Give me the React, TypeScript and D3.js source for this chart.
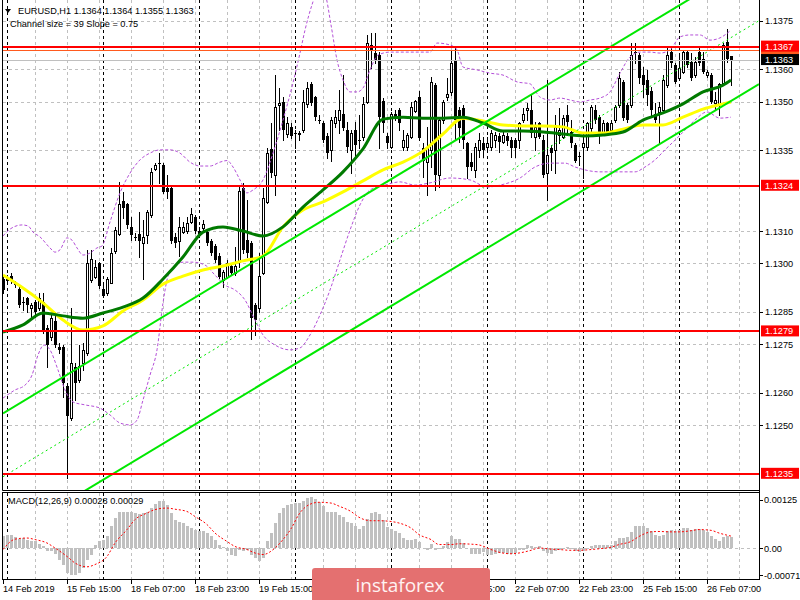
import React from "react";
import * as d3 from "d3";

// ---------------- data ----------------
const opens = [
  1.12952,1.12949,1.12961,1.12943,1.12921,1.12881,1.12893,1.12862,1.12881,1.12862,
  1.12881,1.12800,1.12773,1.12822,1.12742,1.12742,1.12621,1.12522,1.12680,1.12640,
  1.12692,1.12723,1.12949,1.12958,1.13001,1.12921,1.12909,1.12939,1.13038,1.13091,
  1.13193,1.13184,1.13113,1.13082,1.13091,1.13063,1.13088,1.13150,1.13292,1.13310,
  1.13304,1.13233,1.13233,1.13082,1.13069,1.13097,1.13100,1.13128,1.13143,1.13100,
  1.13110,1.13097,1.13069,1.13054,1.13023,1.12949,1.12958,1.12992,1.12970,1.13004,
  1.13233,1.13072,1.13063,1.12872,1.12862,1.12970,1.13190,1.13354,1.13273,1.13490,
  1.13499,1.13400,1.13422,1.13403,1.13403,1.13412,1.13493,1.13554,1.13514,1.13443,
  1.13434,1.13394,1.13351,1.13434,1.13443,1.13462,1.13412,1.13351,1.13412,1.13381,
  1.13391,1.13499,1.13675,1.13650,1.13644,1.13502,1.13394,1.13360,1.13462,1.13474,
  1.13360,1.13360,1.13391,1.13471,1.13514,1.13357,1.13313,1.13351,1.13551,1.13273,
  1.13443,1.13514,1.13530,1.13629,1.13474,1.13480,1.13372,1.13313,1.13289,1.13351,
  1.13372,1.13360,1.13360,1.13381,1.13394,1.13375,1.13394,1.13381,1.13381,1.13381,
  1.13443,1.13474,1.13474,1.13391,1.13434,1.13381,1.13279,1.13357,1.13351,1.13397,
  1.13391,1.13459,1.13406,1.13366,1.13332,1.13360,1.13360,1.13418,1.13474,1.13452,
  1.13406,1.13434,1.13412,1.13443,1.13490,1.13561,1.13490,1.13490,1.13653,1.13644,
  1.13582,1.13567,1.13533,1.13462,1.13468,1.13474,1.13551,1.13653,1.13613,1.13573,
  1.13592,1.13653,1.13622,1.13582,1.13653,1.13632,1.13582,1.13582,1.13496,1.13490,
  1.13558,1.13684,1.13640,
];
const highs = [
  1.12964,1.12964,1.12970,1.12946,1.12927,1.12896,1.12896,1.12878,1.12887,1.12909,
  1.12909,1.12810,1.12841,1.12850,1.12754,1.12748,1.12631,1.12862,1.12692,1.12748,
  1.12754,1.13042,1.13042,1.13011,1.13004,1.12939,1.12958,1.13048,1.13113,1.13252,
  1.13221,1.13187,1.13143,1.13094,1.13159,1.13134,1.13165,1.13295,1.13310,1.13341,
  1.13310,1.13273,1.13236,1.13094,1.13143,1.13128,1.13143,1.13171,1.13150,1.13113,
  1.13134,1.13103,1.13075,1.13060,1.13032,1.12980,1.13011,1.12998,1.13051,1.13242,
  1.13249,1.13196,1.13069,1.12878,1.13032,1.13233,1.13357,1.13434,1.13582,1.13542,
  1.13514,1.13452,1.13434,1.13412,1.13409,1.13536,1.13561,1.13561,1.13517,1.13459,
  1.13440,1.13403,1.13452,1.13474,1.13536,1.13582,1.13437,1.13412,1.13437,1.13459,
  1.13514,1.13706,1.13712,1.13712,1.13653,1.13511,1.13403,1.13468,1.13474,1.13480,
  1.13412,1.13403,1.13499,1.13505,1.13533,1.13372,1.13422,1.13576,1.13558,1.13452,
  1.13505,1.13573,1.13660,1.13666,1.13483,1.13490,1.13375,1.13341,1.13372,1.13403,
  1.13391,1.13391,1.13412,1.13406,1.13403,1.13412,1.13403,1.13391,1.13388,1.13437,
  1.13480,1.13496,1.13524,1.13437,1.13437,1.13397,1.13567,1.13366,1.13459,1.13480,
  1.13459,1.13490,1.13443,1.13372,1.13344,1.13403,1.13437,1.13490,1.13490,1.13459,
  1.13443,1.13437,1.13443,1.13490,1.13592,1.13567,1.13496,1.13681,1.13681,1.13650,
  1.13607,1.13598,1.13545,1.13496,1.13499,1.13582,1.13666,1.13669,1.13619,1.13650,
  1.13660,1.13660,1.13650,1.13638,1.13669,1.13653,1.13598,1.13588,1.13530,1.13558,
  1.13681,1.13724,1.13640,
];
const lows = [
  1.12909,1.12939,1.12939,1.12927,1.12865,1.12856,1.12850,1.12834,1.12834,1.12856,
  1.12785,1.12680,1.12763,1.12742,1.12723,1.12587,1.12337,1.12516,1.12578,1.12634,
  1.12671,1.12717,1.12943,1.12955,1.12924,1.12896,1.12902,1.12939,1.13032,1.13088,
  1.13140,1.13110,1.13072,1.13072,1.13020,1.12952,1.13063,1.13143,1.13289,1.13249,
  1.13218,1.13202,1.13063,1.13051,1.13023,1.13094,1.13094,1.13125,1.13094,1.13082,
  1.13103,1.13057,1.13026,1.13004,1.12955,1.12927,1.12955,1.12964,1.12964,1.12989,
  1.13032,1.13020,1.12766,1.12779,1.12850,1.12967,1.13187,1.13267,1.13212,1.13412,
  1.13381,1.13391,1.13388,1.13357,1.13381,1.13406,1.13483,1.13490,1.13443,1.13434,
  1.13375,1.13326,1.13318,1.13422,1.13403,1.13412,1.13344,1.13279,1.13329,1.13357,
  1.13381,1.13496,1.13604,1.13619,1.13357,1.13406,1.13357,1.13357,1.13443,1.13412,
  1.13351,1.13351,1.13388,1.13468,1.13381,1.13267,1.13212,1.13298,1.13227,1.13236,
  1.13434,1.13505,1.13521,1.13381,1.13375,1.13357,1.13264,1.13289,1.13267,1.13329,
  1.13329,1.13344,1.13351,1.13360,1.13344,1.13372,1.13366,1.13329,1.13329,1.13357,
  1.13437,1.13443,1.13391,1.13351,1.13388,1.13267,1.13196,1.13289,1.13279,1.13372,
  1.13388,1.13403,1.13360,1.13313,1.13304,1.13264,1.13351,1.13403,1.13434,1.13372,
  1.13403,1.13397,1.13403,1.13437,1.13483,1.13443,1.13437,1.13483,1.13619,1.13558,
  1.13514,1.13490,1.13459,1.13437,1.13372,1.13468,1.13545,1.13607,1.13558,1.13567,
  1.13588,1.13607,1.13567,1.13576,1.13613,1.13588,1.13576,1.13496,1.13474,1.13459,
  1.13551,1.13622,1.13550,
];
const closes = [
  1.12918,1.12952,1.12946,1.12933,1.12872,1.12880,1.12872,1.12872,1.12850,1.12893,
  1.12788,1.12748,1.12831,1.12748,1.12733,1.12631,1.12529,1.12692,1.12631,1.12683,
  1.12733,1.13001,1.13014,1.12989,1.12930,1.12899,1.12952,1.13032,1.13103,1.13184,
  1.13171,1.13119,1.13088,1.13081,1.13069,1.13082,1.13159,1.13283,1.13304,1.13309,
  1.13221,1.13221,1.13069,1.13063,1.13113,1.13113,1.13125,1.13153,1.13100,1.13091,
  1.13122,1.13063,1.13032,1.13011,1.12958,1.12974,1.13001,1.12970,1.12992,1.13224,
  1.13042,1.13032,1.12831,1.12825,1.12961,1.13202,1.13341,1.13279,1.13483,1.13496,
  1.13412,1.13434,1.13394,1.13402,1.13404,1.13499,1.13542,1.13496,1.13452,1.13442,
  1.13381,1.13341,1.13443,1.13452,1.13474,1.13418,1.13360,1.13403,1.13366,1.13380,
  1.13493,1.13681,1.13660,1.13629,1.13452,1.13434,1.13372,1.13462,1.13449,1.13434,
  1.13381,1.13397,1.13483,1.13502,1.13388,1.13318,1.13357,1.13561,1.13273,1.13443,
  1.13499,1.13524,1.13619,1.13443,1.13418,1.13381,1.13298,1.13298,1.13360,1.13381,
  1.13351,1.13372,1.13403,1.13397,1.13375,1.13397,1.13378,1.13357,1.13357,1.13434,
  1.13462,1.13480,1.13403,1.13422,1.13391,1.13273,1.13335,1.13341,1.13422,1.13412,
  1.13449,1.13437,1.13372,1.13318,1.13331,1.13372,1.13434,1.13483,1.13443,1.13403,
  1.13434,1.13403,1.13434,1.13483,1.13573,1.13449,1.13443,1.13644,1.13652,1.13573,
  1.13551,1.13521,1.13474,1.13443,1.13483,1.13567,1.13644,1.13619,1.13561,1.13604,
  1.13653,1.13613,1.13573,1.13622,1.13619,1.13592,1.13592,1.13499,1.13505,1.13554,
  1.13675,1.13632,1.13630,
];

const macdHist = [
  0.00030,0.00035,0.00035,0.00029,0.00023,0.00026,0.00020,0.00017,0.00017,0.00011,
  0.00004,-0.00009,-0.00009,-0.00015,-0.00030,-0.00043,-0.00065,-0.00069,-0.00069,-0.00065,
  -0.00052,-0.00030,-0.00017,0.00009,0.00017,0.00022,0.00030,0.00056,0.00078,0.00095,
  0.00095,0.00095,0.00095,0.00091,0.00089,0.00091,0.00095,0.00104,0.00115,0.00122,
  0.00122,0.00113,0.00091,0.00074,0.00069,0.00065,0.00056,0.00052,0.00048,0.00043,
  0.00043,0.00039,0.00030,0.00022,0.00009,0.00002,-0.00009,-0.00017,-0.00022,-0.00004,
  -0.00009,-0.00004,-0.00017,-0.00026,-0.00035,-0.00026,0.00017,0.00039,0.00065,0.00091,
  0.00104,0.00113,0.00114,0.00116,0.00116,0.00122,0.00130,0.00133,0.00128,0.00119,
  0.00109,0.00095,0.00094,0.00094,0.00087,0.00082,0.00069,0.00065,0.00058,0.00049,
  0.00056,0.00076,0.00091,0.00094,0.00089,0.00074,0.00055,0.00049,0.00045,0.00039,
  0.00026,0.00020,0.00022,0.00023,0.00015,0.00001,-0.00006,0.00011,-0.00006,-0.00003,
  0.00006,0.00015,0.00030,0.00023,0.00023,0.00013,0.00000,-0.00015,-0.00015,-0.00015,
  -0.00011,-0.00017,-0.00017,-0.00015,-0.00013,-0.00013,-0.00015,-0.00015,-0.00013,-0.00006,
  -0.00006,0.00007,0.00004,0.00002,0.00004,-0.00009,-0.00013,-0.00015,-0.00009,-0.00004,
  -0.00002,0.00002,-0.00003,-0.00009,-0.00011,-0.00009,-0.00002,0.00004,0.00007,0.00007,
  0.00007,0.00009,0.00009,0.00017,0.00026,0.00026,0.00029,0.00042,0.00056,0.00058,
  0.00056,0.00052,0.00043,0.00035,0.00030,0.00035,0.00043,0.00048,0.00043,0.00048,
  0.00052,0.00052,0.00046,0.00049,0.00049,0.00048,0.00042,0.00032,0.00023,0.00019,
  0.00029,0.00032,0.00028,
];

const signalPts = [
  [0,-0.00004],[3,0.00023],[6,0.00026],[8,0.00022],[11,0.00013],[13,0.0],[16,-0.00022],
  [18,-0.00039],[21,-0.00049],[23,-0.00043],[26,-0.00022],[28,0.00013],[31,0.00048],
  [33,0.00074],[36,0.00091],[38,0.00100],[41,0.00104],[43,0.00101],[46,0.00095],
  [48,0.00082],[51,0.00061],[53,0.00039],[56,0.00017],[58,0.00004],[61,-0.00004],
  [63,-0.00013],[65,-0.00017],[68,0.0],[70,0.00022],[72,0.00050],[74,0.00088],
  [77,0.00115],[79,0.00119],[82,0.00117],[84,0.00109],[87,0.00095],[89,0.00080],
  [92,0.00071],[94,0.00071],[97,0.00069],[99,0.00065],[102,0.00052],[104,0.00035],
  [107,0.00022],[109,0.00009],[112,0.00009],[114,0.00011],[117,0.00010],[119,0.00008],
  [122,-0.00004],[124,-0.00011],[127,-0.00015],[129,-0.00013],[132,-0.00006],[134,0.0],
  [137,-0.00003],[139,-0.00004],[142,-0.00006],[144,-0.00006],[147,-0.00004],[149,-0.00002],
  [152,0.00002],[154,0.00009],[157,0.00017],[159,0.00030],[162,0.00042],[164,0.00043],
  [167,0.00042],[169,0.00042],[172,0.00045],[174,0.00048],[177,0.00046],[179,0.00039],
  [182,0.00031],
];

const maIdx = [0,5,10,15,20,25,30,35,40,45,50,55,60,65,70,75,80,85,90,95,100,105,110,115,120,125,130,135,140,145,150,155,160,165,170,175,180,182];
const maYellow = [
  1.12964,1.12924,1.12878,1.12825,1.12794,1.12807,1.12853,1.12887,1.12936,1.12961,
  1.12980,1.12992,1.13008,1.13023,1.13113,1.13165,1.13190,1.13221,1.13255,1.13289,
  1.13313,1.13347,1.13400,1.13449,1.13440,1.13428,1.13425,1.13425,1.13422,1.13403,
  1.13403,1.13415,1.13428,1.13428,1.13452,1.13477,1.13493,1.13499,
];
const maGreen = [
  1.12788,1.12810,1.12847,1.12838,1.12831,1.12847,1.12865,1.12893,1.12952,1.13020,
  1.13097,1.13113,1.13100,1.13085,1.13113,1.13174,1.13227,1.13283,1.13354,1.13446,
  1.13452,1.13449,1.13449,1.13452,1.13434,1.13409,1.13409,1.13406,1.13400,1.13394,
  1.13397,1.13406,1.13443,1.13465,1.13493,1.13530,1.13551,1.13567,
];

const bbUpper = [
  [0,1.13085],[1.75,1.13106],[4.75,1.13119],[6.25,1.13116],[7.5,1.13097],[9.25,1.13082],
  [11.75,1.13048],[13,1.13035],[14.25,1.13042],[16,1.13079],[17.25,1.13072],[18.5,1.13048],
  [20,1.13026],[21.75,1.13032],[23.5,1.13048],[24.75,1.13054],[26.75,1.13128],[29.25,1.13218],
  [31.75,1.13279],[34.25,1.13320],[36.75,1.13341],[39.25,1.13351],[41.75,1.13351],[44.25,1.13341],
  [46.75,1.13313],[49.25,1.13301],[51.75,1.13301],[54.25,1.13313],[56,1.13318],[57.5,1.13298],
  [59.25,1.13258],[61,1.13218],[62.5,1.13227],[65,1.13258],[67.5,1.13341],[70,1.13443],
  [72.5,1.13558],[74.25,1.13650],[75.5,1.13721],[77.25,1.13799],[78.75,1.13845],[80.5,1.13830],
  [82,1.13737],[83.5,1.13629],[85,1.13567],[86.75,1.13530],[88.5,1.13530],[90,1.13542],
  [91.75,1.13598],[93.75,1.13644],[96.75,1.13653],[101.75,1.13653],[106.75,1.13653],[108.5,1.13681],
  [111.75,1.13675],[113.5,1.13660],[115,1.13607],[118.5,1.13598],[121.75,1.13588],[125,1.13582],
  [128.5,1.13561],[131.75,1.13555],[134.25,1.13514],[136.75,1.13505],[139.25,1.13511],[141.75,1.13505],
  [144.25,1.13499],[146.75,1.13505],[149.25,1.13511],[151.75,1.13530],[154.25,1.13588],[156.75,1.13638],
  [159.25,1.13653],[161.75,1.13653],[164.25,1.13650],[166.75,1.13660],[169.25,1.13700],[171.75,1.13706],
  [174.25,1.13706],[176.75,1.13690],[179.25,1.13697],[182,1.13721],
];
const bbLower = [
  [0,1.12584],[3,1.12609],[5.5,1.12624],[7.25,1.12655],[8.75,1.12717],[10.25,1.12748],
  [11.75,1.12733],[13.75,1.12671],[15.5,1.12609],[17.5,1.12572],[20.5,1.12563],[24.25,1.12553],
  [26.75,1.12532],[29.25,1.12507],[31.75,1.12501],[33.5,1.12516],[35,1.12578],[36.75,1.12655],
  [38.5,1.12733],[40,1.12878],[41,1.12949],[42.5,1.12989],[45,1.13004],[47.5,1.13004],
  [50.5,1.12995],[53,1.12964],[55.5,1.12933],[58,1.12918],[60.5,1.12887],[63,1.12825],
  [65,1.12779],[68,1.12748],[71.75,1.12733],[74.25,1.12739],[76.75,1.12779],[79.25,1.12841],
  [81.75,1.12918],[84.25,1.13011],[86.75,1.13103],[89.25,1.13181],[91.75,1.13227],[95.5,1.13242],
  [99.25,1.13252],[103,1.13242],[106.75,1.13249],[111.75,1.13264],[116.75,1.13258],[121,1.13236],
  [124.25,1.13242],[129.25,1.13264],[133,1.13298],[136.75,1.13310],[140.5,1.13310],[143,1.13298],
  [149.25,1.13283],[158,1.13283],[160.5,1.13298],[163,1.13320],[165.5,1.13351],[168,1.13381],
  [170.5,1.13412],[173,1.13443],[176,1.13468],[179.25,1.13449],[182,1.13452],
];

const channelIdx = [0, 189];
const channelUpper = [1.12537, 1.13946];
const channelMid = [1.12341, 1.13750];
const channelLower = [1.12145, 1.13554];

const levels = [1.1367, 1.1324, 1.1279, 1.1235];
const orangeLevel = 1.1366;
const bidPrice = 1.1363;
const priceTicks = [1.1375, 1.1360, 1.1350, 1.1335, 1.1310, 1.1300, 1.1285, 1.1275, 1.1260, 1.1250];
const macdTicks = [0.00125, 0.0, -0.00071];
const macdTickLabels = ["0.00125", "0.00", "-0.00071"];
const timeLabels = [
  "14 Feb 2019", "15 Feb 15:00", "18 Feb 07:00", "18 Feb 23:00", "19 Feb 15:00", "20 Feb 07:00",
  "20 Feb 23:00", "21 Feb 15:00", "22 Feb 07:00", "22 Feb 23:00", "25 Feb 15:00", "26 Feb 07:00",
];
const timeLabelBars = [0, 16, 32, 48, 64, 80, 96, 112, 128, 144, 160, 176];
const daySepBars = [1, 25, 49, 73, 97, 121, 145, 169];
const headerText = "EURUSD,H1  1.1364 1.1364 1.1355 1.1363";
const channelText = "Channel size = 39 Slope = 0.75";
const macdText = "MACD(12,26,9) 0.00028 0.00029";

const FONT = "'Liberation Sans', Arial, Helvetica, sans-serif";

export default function App() {
  const x = d3.scaleLinear().domain([0, 189]).range([3, 759]);
  const yP = d3.scaleLinear().domain([1.123, 1.13814]).range([490, 0]);
  const yM = d3.scaleLinear().domain([-0.000807, 0.001432]).range([579, 493]);
  const cx = (i: number) => Math.round(x(i));
  const smoothP = d3.line<number[]>().x(d => x(d[0])).y(d => yP(d[1])).curve(d3.curveMonotoneX);
  const straightP = d3.line<number[]>().x(d => x(d[0])).y(d => yP(d[1]));
  const smoothM = d3.line<number[]>().x(d => x(d[0])).y(d => yM(d[1])).curve(d3.curveMonotoneX);
  const gridBars = d3.range(8, 190, 8);
  const yellowPts = maIdx.map((i, k) => [i, maYellow[k]]);
  const greenPts = maIdx.map((i, k) => [i, maGreen[k]]);
  const chPts = (vals: number[]) => channelIdx.map((i, k) => [i, vals[k]]);
  const hy = (p: number) => Math.round(yP(p)) + 0.5;
  const lime = "#00E800";

  return (
    <svg width={800} height={600} style={{ position: "fixed", left: 0, top: 0 }} fontFamily={FONT}>
      <defs>
        <clipPath id="mainClip"><rect x={3} y={0} width={756} height={490} /></clipPath>
        <clipPath id="macdClip"><rect x={3} y={493} width={756} height={86} /></clipPath>
      </defs>
      <rect x={0} y={0} width={800} height={600} fill="#ffffff" />

      {/* main panel */}
      <g clipPath="url(#mainClip)">
        {priceTicks.concat([1.1324, 1.1279]).map((p, k) => (
          <line key={"hg" + k} x1={3} x2={759} y1={hy(p)} y2={hy(p)} stroke="#c0c0c0" strokeDasharray="3,3" />
        ))}
        {gridBars.map(b => (
          <line key={"vg" + b} x1={cx(b) + 0.5} x2={cx(b) + 0.5} y1={0} y2={490} stroke="#c0c0c0" strokeDasharray="3,3" />
        ))}
        {daySepBars.map(b => (
          <line key={"ds" + b} x1={cx(b) + 0.5} x2={cx(b) + 0.5} y1={0} y2={490} stroke="#000" strokeDasharray="3,3" />
        ))}

        {/* candles */}
        {opens.map((o, i) => {
          const c = closes[i];
          const xc = cx(i);
          const yo = Math.round(yP(o));
          const yc = Math.round(yP(c));
          const yh = Math.round(yP(highs[i]));
          const yl = Math.round(yP(lows[i]));
          const top = Math.min(yo, yc);
          const bot = Math.max(yo, yc);
          const up = c >= o;
          return (
            <g key={"c" + i}>
              <line x1={xc + 0.5} x2={xc + 0.5} y1={yh} y2={yl + 1} stroke="#000" />
              {up ? (
                <rect x={xc - 0.5} y={top + 0.5} width={2} height={Math.max(bot - top, 1)} fill="#fff" stroke="#000" />
              ) : (
                <rect x={xc - 1} y={top} width={3} height={Math.max(bot - top, 1)} fill="#000" />
              )}
            </g>
          );
        })}

        {/* bollinger bands */}
        <path d={smoothP(bbUpper) || ""} fill="none" stroke="#B450D8" strokeWidth={1} strokeDasharray="3,2" />
        <path d={smoothP(bbLower) || ""} fill="none" stroke="#B450D8" strokeWidth={1} strokeDasharray="3,2" />

        {/* moving averages */}
        <path d={smoothP(yellowPts) || ""} fill="none" stroke="#FFFF00" strokeWidth={3} strokeLinejoin="round" />
        <path d={smoothP(greenPts) || ""} fill="none" stroke="#007A00" strokeWidth={3} strokeLinejoin="round" />

        {/* channel */}
        <path d={straightP(chPts(channelUpper)) || ""} fill="none" stroke={lime} strokeWidth={2} />
        <path d={straightP(chPts(channelLower)) || ""} fill="none" stroke={lime} strokeWidth={2} />
        <path d={straightP(chPts(channelMid)) || ""} fill="none" stroke={lime} strokeWidth={1} strokeDasharray="2,3" />

        {/* horizontal levels */}
        <line x1={3} x2={759} y1={hy(bidPrice)} y2={hy(bidPrice)} stroke="#c0c0c0" />
        <line x1={3} x2={759} y1={hy(orangeLevel)} y2={hy(orangeLevel)} stroke="#FF5A1E" />
        {levels.map((p, k) => (
          <line key={"lv" + k} x1={3} x2={759} y1={Math.round(yP(p))} y2={Math.round(yP(p))} stroke="#FF0000" strokeWidth={2} />
        ))}
      </g>

      {/* header */}
      <path d="M5,9 L11,9 L8,13 Z" fill="#000" />
      <text x={18} y={13.5} fontSize={9.2} fill="#000">{headerText}</text>
      <text x={10} y={26.5} fontSize={9.2} fill="#000">{channelText}</text>

      {/* MACD panel */}
      <g clipPath="url(#macdClip)">
        {gridBars.map(b => (
          <line key={"mvg" + b} x1={cx(b) + 0.5} x2={cx(b) + 0.5} y1={493} y2={579} stroke="#c0c0c0" strokeDasharray="3,3" />
        ))}
        {daySepBars.map(b => (
          <line key={"mds" + b} x1={cx(b) + 0.5} x2={cx(b) + 0.5} y1={493} y2={579} stroke="#000" strokeDasharray="3,3" />
        ))}
        <line x1={3} x2={759} y1={Math.round(yM(0)) + 0.5} y2={Math.round(yM(0)) + 0.5} stroke="#c0c0c0" strokeDasharray="3,3" />
        {macdHist.map((v, i) => {
          const y0 = Math.round(yM(0));
          const yv = Math.round(yM(v));
          return (
            <rect key={"h" + i} x={cx(i) - 1} y={Math.min(y0, yv)} width={3} height={Math.max(Math.abs(yv - y0), 0)} fill="#C0C0C0" />
          );
        })}
        <path d={smoothM(signalPts) || ""} fill="none" stroke="#FF0000" strokeWidth={1} strokeDasharray="2,2" />
      </g>
      <text x={8} y={504} fontSize={9.2} fill="#000">{macdText}</text>

      {/* frames */}
      <line x1={2.5} x2={2.5} y1={0} y2={490.5} stroke="#000" />
      <line x1={2.5} x2={759.5} y1={490.5} y2={490.5} stroke="#000" />
      <rect x={2.5} y={492.5} width={757} height={87} fill="none" stroke="#000" />
      <line x1={759.5} x2={759.5} y1={0} y2={580} stroke="#000" />

      {/* right price axis */}
      {priceTicks.map((p, k) => (
        <g key={"pt" + k}>
          <line x1={759.5} x2={763} y1={hy(p)} y2={hy(p)} stroke="#000" />
          <text x={765} y={yP(p) + 3.5} fontSize={9.2} fill="#000">{p.toFixed(4)}</text>
        </g>
      ))}
      <rect x={761} y={yP(orangeLevel) - 5.5} width={38} height={11} fill="#FF5A1E" />
      {levels.map((p, k) => (
        <g key={"ll" + k}>
          <rect x={761} y={yP(p) - 6} width={38} height={11} fill="#FF0000" />
          <text x={765} y={yP(p) + 3} fontSize={9.2} fill="#fff">{p.toFixed(4)}</text>
        </g>
      ))}
      <rect x={761} y={yP(bidPrice) - 5.5} width={38} height={11} fill="#000" />
      <text x={765} y={yP(bidPrice) + 3.5} fontSize={9.2} fill="#fff">{bidPrice.toFixed(4)}</text>

      {/* MACD axis */}
      {macdTicks.map((v, k) => (
        <g key={"mt" + k}>
          <line x1={759.5} x2={763} y1={Math.round(yM(v)) + 0.5} y2={Math.round(yM(v)) + 0.5} stroke="#000" />
          <text x={764} y={yM(v) + 3.5} fontSize={9.2} fill="#000">{macdTickLabels[k]}</text>
        </g>
      ))}

      {/* time axis */}
      {timeLabelBars.map((b, k) => (
        <g key={"tl" + k}>
          <line x1={cx(b) + 0.5} x2={cx(b) + 0.5} y1={580} y2={584} stroke="#000" />
          <text x={cx(b)} y={591.5} fontSize={9.2} fill="#000">{timeLabels[k]}</text>
        </g>
      ))}

      {/* watermark */}
      <rect x={312} y={568} width={178} height={36} rx={3} fill="#E47070" />
      <text x={400} y={592} fontSize={19} fill="#FFF2F2" textAnchor="middle" fontFamily="'Open Sans', 'Noto Sans', sans-serif">instaforex</text>
    </svg>
  );
}
